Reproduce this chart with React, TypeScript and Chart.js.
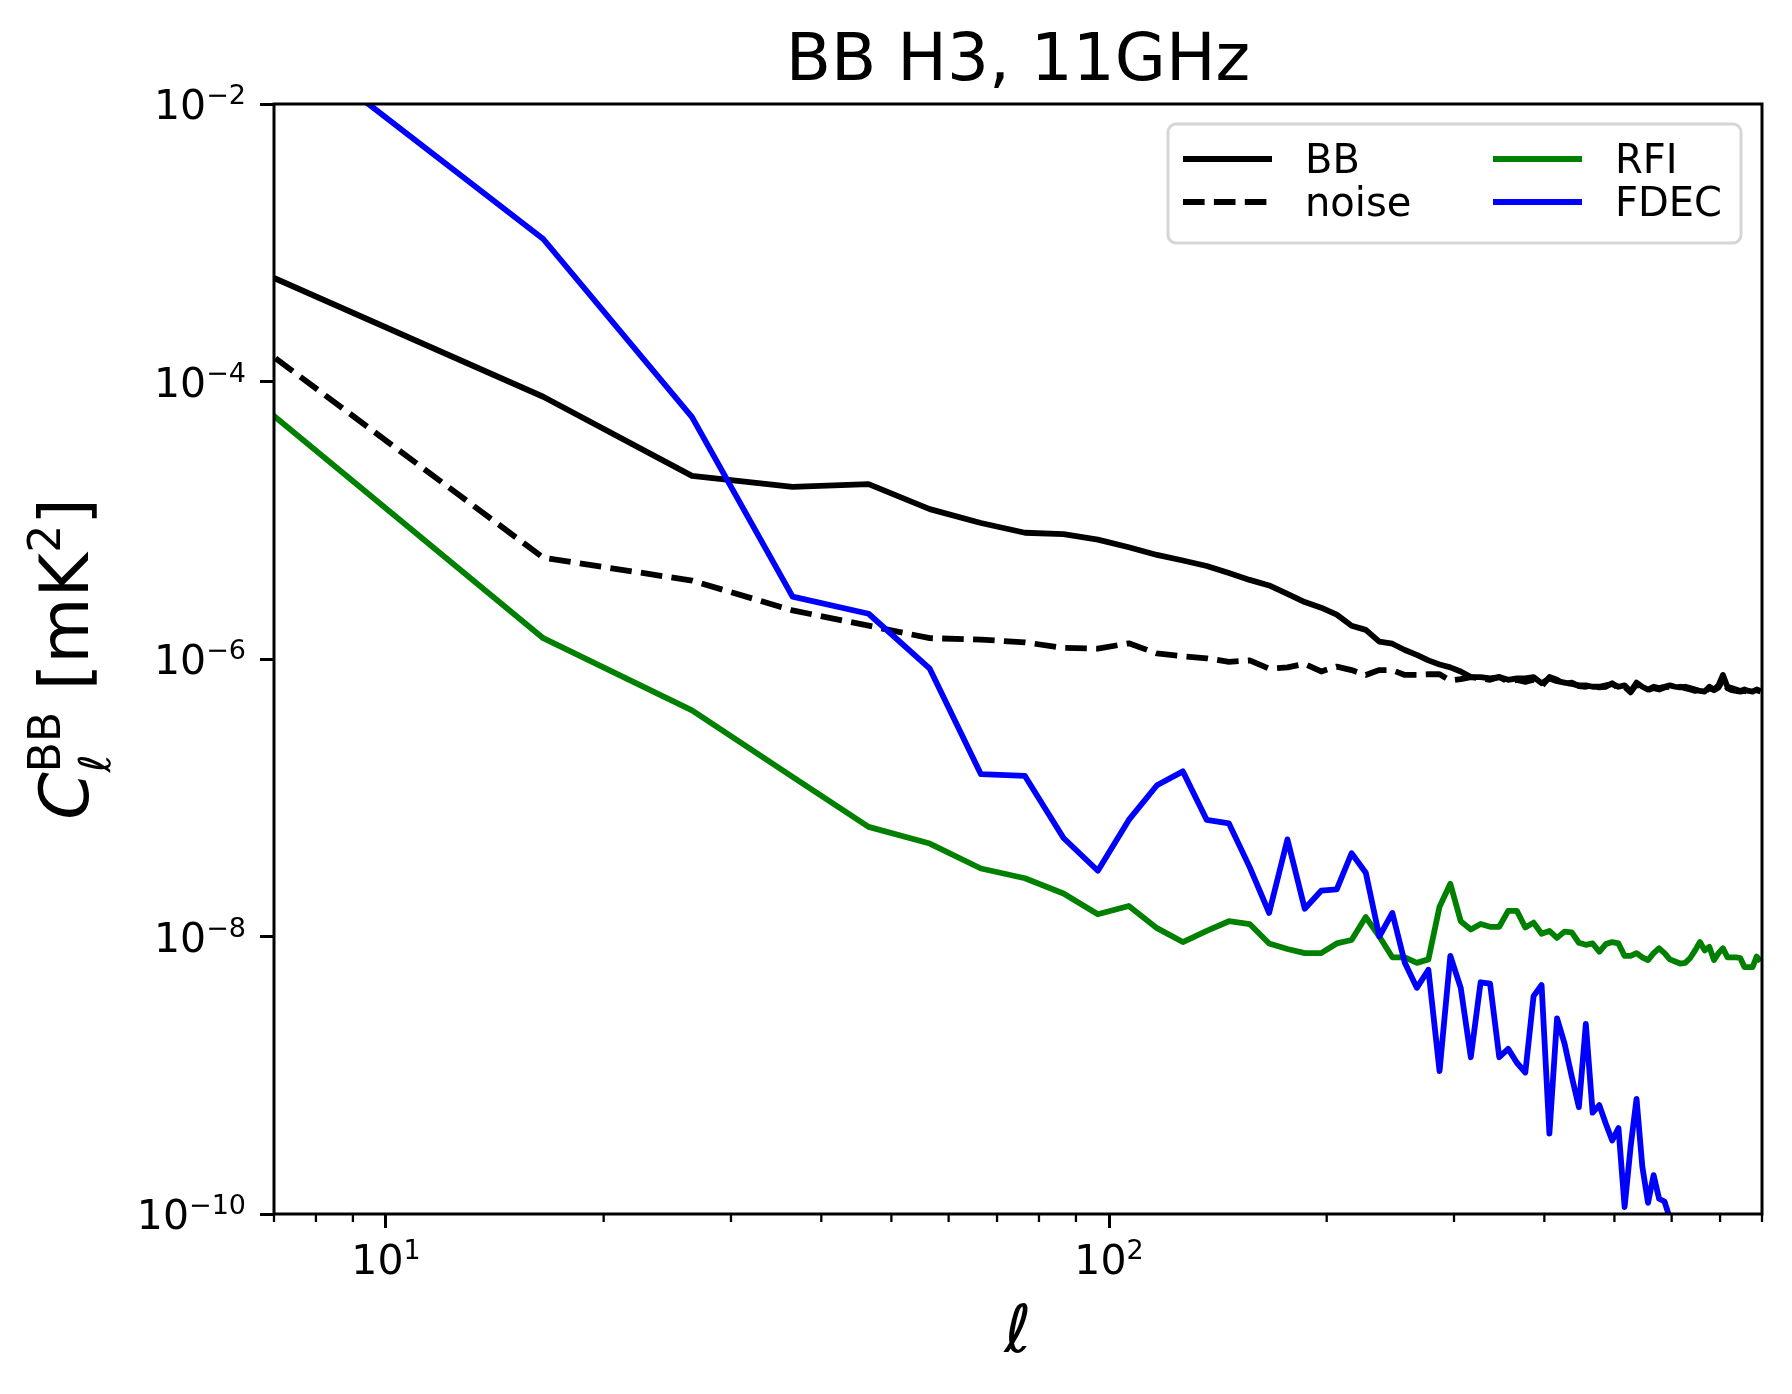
import React, { useEffect, useRef } from 'react';
import Chart from 'chart.js/auto';

// multipole bin centres
const ells = [
  6.5, 16.5, 26.5, 36.5, 46.5, 56.5, 66.5, 76.5, 86.5, 96.5,
  106.5, 116.5, 126.5, 136.5, 146.5, 156.5, 166.5, 176.5, 186.5, 196.5,
  206.5, 216.5, 226.5, 236.5, 246.5, 256.5, 266.5, 276.5, 286.5, 296.5,
  306.5, 316.5, 326.5, 336.5, 346.5, 356.5, 366.5, 376.5, 386.5, 396.5,
  406.5, 416.5, 426.5, 436.5, 446.5, 456.5, 466.5, 476.5, 486.5, 496.5,
  506.5, 516.5, 526.5, 536.5, 546.5, 556.5, 566.5, 576.5, 586.5, 596.5,
  606.5, 616.5, 626.5, 636.5, 646.5, 656.5, 666.5, 676.5, 686.5, 696.5,
  706.5, 716.5, 726.5, 736.5, 746.5, 756.5, 766.5, 776.5, 786.5, 796.5,
];

// log10 of C_l
const bbLog = [
  -3.18, -4.11, -4.68, -4.76, -4.74, -4.92, -5.02, -5.09, -5.10, -5.14,
  -5.195, -5.25, -5.29, -5.33, -5.38, -5.43, -5.47, -5.53, -5.59, -5.63,
  -5.68, -5.76, -5.79, -5.875, -5.89, -5.935, -5.97, -6.01, -6.04, -6.06,
  -6.09, -6.13, -6.13, -6.14, -6.13, -6.15, -6.14, -6.14, -6.13, -6.175,
  -6.14, -6.16, -6.17, -6.18, -6.19, -6.19, -6.20, -6.20, -6.19, -6.18,
  -6.20, -6.19, -6.235, -6.17, -6.20, -6.22, -6.20, -6.21, -6.20, -6.19,
  -6.20, -6.205, -6.20, -6.21, -6.22, -6.23, -6.235, -6.20, -6.22, -6.19,
  -6.115, -6.20, -6.21, -6.22, -6.23, -6.22, -6.23, -6.235, -6.22, -6.23,
];

const noiseLog = [
  -3.70, -5.27, -5.435, -5.65, -5.76, -5.85, -5.86, -5.88, -5.92, -5.925,
  -5.887, -5.96, -5.98, -5.995, -6.02, -6.01, -6.07, -6.06, -6.035, -6.09,
  -6.055, -6.08, -6.115, -6.08, -6.08, -6.115, -6.115, -6.11, -6.11, -6.155,
  -6.145, -6.13, -6.14, -6.15, -6.13, -6.165, -6.15, -6.165, -6.15, -6.195,
  -6.13, -6.15, -6.18, -6.17, -6.195, -6.20, -6.19, -6.205, -6.20, -6.175,
  -6.21, -6.20, -6.24, -6.18, -6.21, -6.225, -6.21, -6.22, -6.205, -6.20,
  -6.21, -6.20, -6.21, -6.22, -6.23, -6.22, -6.24, -6.21, -6.225, -6.205,
  -6.15, -6.21, -6.225, -6.23, -6.235, -6.23, -6.237, -6.24, -6.225, -6.235,
];

const rfiLog = [
  -4.11, -5.85, -6.37, -6.85, -7.21, -7.33, -7.51, -7.58, -7.69, -7.84,
  -7.78, -7.94, -8.04, -7.96, -7.89, -7.91, -8.05, -8.09, -8.12, -8.12,
  -8.05, -8.025, -7.86, -8.00, -8.15, -8.15, -8.19, -8.165, -7.785, -7.62,
  -7.89, -7.95, -7.91, -7.93, -7.93, -7.815, -7.815, -7.935, -7.90, -7.98,
  -7.96, -8.01, -7.965, -7.97, -8.045, -8.06, -8.05, -8.11, -8.055, -8.04,
  -8.05, -8.14, -8.14, -8.12, -8.15, -8.17, -8.12, -8.085, -8.12, -8.165,
  -8.18, -8.195, -8.19, -8.155, -8.10, -8.04, -8.10, -8.075, -8.17, -8.12,
  -8.085, -8.15, -8.15, -8.15, -8.155, -8.22, -8.22, -8.22, -8.145, -8.18,
];

const fdecLog = [
  -1.345, -2.973, -4.257, -5.55, -5.674, -6.07, -6.83, -6.843, -7.29, -7.526,
  -7.16, -6.91, -6.81, -7.16, -7.185, -7.50, -7.83, -7.30, -7.80, -7.67,
  -7.66, -7.40, -7.54, -8.00, -7.83, -8.19, -8.37, -8.24, -8.97, -8.14,
  -8.37, -8.87, -8.33, -8.34, -8.87, -8.81, -8.91, -8.98, -8.43, -8.35,
  -9.42, -8.59, -8.77, -9.01, -9.23, -8.63, -9.27, -9.215, -9.35, -9.47,
  -9.38, -9.95, -9.515, -9.17, -9.66, -9.92, -9.72, -9.89, -9.91, -10.03,
  null, null, null, null, null, null, null, null, null, null,
  null, null, null, null, null, null, null, null, null, null,
];

const xMajorTicks = [10, 100];
const xTickExps = ['1', '2'];
const xMinorTicks = [7, 8, 9, 20, 30, 40, 50, 60, 70, 80, 90, 200, 300, 400, 500, 600, 700, 800];
const yTicks = [1e-2, 1e-4, 1e-6, 1e-8, 1e-10];
const yTickExps = ['\u22122', '\u22124', '\u22126', '\u22128', '\u221210'];

const titleText = 'BB H3, 11GHz';
const xLabel = '\u2113';

const FAMILY = '"DejaVu Sans"';
const fnt = (size: number, italic = false) => `${italic ? 'italic ' : ''}${size}px ${FAMILY}`;

const toPoints = (vals: (number | null)[]) =>
  ells.map((l, i) => ({ x: l, y: vals[i] === null ? null : Math.pow(10, vals[i] as number) }));

type Part = { t: string; s: number; it?: boolean; dy: number };

// C_l^BB [mK^2], groups drawn one after another, parts of a group share a start
const yLabelGroups: Part[][] = [
  [{ t: 'C', s: 68, it: true, dy: 0 }],
  [{ t: 'BB', s: 44, dy: -28 }, { t: '\u2113', s: 44, it: true, dy: 22 }],
  [{ t: ' [mK', s: 68, dy: 0 }],
  [{ t: '2', s: 44, dy: -28 }],
  [{ t: ']', s: 68, dy: 0 }],
];

function drawPow(ctx: CanvasRenderingContext2D, exp: string, x: number, baseline: number, align: 'center' | 'right') {
  ctx.font = fnt(41);
  const w1 = ctx.measureText('10').width;
  ctx.font = fnt(27);
  const w2 = ctx.measureText(exp).width;
  const start = align === 'center' ? x - (w1 + w2) / 2 : x - (w1 + w2);
  ctx.textAlign = 'left';
  ctx.textBaseline = 'alphabetic';
  ctx.font = fnt(41);
  ctx.fillText('10', start, baseline);
  ctx.font = fnt(27);
  ctx.fillText(exp, start + w1, baseline - 15);
}

function drawGroups(ctx: CanvasRenderingContext2D, groups: Part[][]) {
  const widths = groups.map((g) =>
    Math.max(...g.map((p) => {
      ctx.font = fnt(p.s, p.it);
      return ctx.measureText(p.t).width;
    }))
  );
  let x = -widths.reduce((a, b) => a + b, 0) / 2;
  ctx.textAlign = 'left';
  ctx.textBaseline = 'alphabetic';
  groups.forEach((g, i) => {
    g.forEach((p) => {
      ctx.font = fnt(p.s, p.it);
      ctx.fillText(p.t, x, p.dy);
    });
    x += widths[i];
  });
}

const decorPlugin = {
  id: 'decor',
  afterDraw(chart: Chart) {
    const { ctx, chartArea: a } = chart;
    const xs = chart.scales.x;
    const ys = chart.scales.y;
    const cx = (a.left + a.right) / 2;
    ctx.save();
    ctx.fillStyle = '#000';
    ctx.strokeStyle = '#000';

    // minor ticks
    ctx.lineWidth = 2.3;
    ctx.beginPath();
    xMinorTicks.forEach((v) => {
      const px = xs.getPixelForValue(v);
      ctx.moveTo(px, a.bottom);
      ctx.lineTo(px, a.bottom + 8);
    });
    ctx.stroke();

    // axes box
    ctx.lineWidth = 3;
    ctx.strokeRect(a.left, a.top, a.right - a.left, a.bottom - a.top);

    // tick labels
    xMajorTicks.forEach((v, i) => drawPow(ctx, xTickExps[i], xs.getPixelForValue(v), a.bottom + 60, 'center'));
    yTicks.forEach((v, i) => drawPow(ctx, yTickExps[i], a.left - 28, ys.getPixelForValue(v) + 15, 'right'));

    // title and axis labels
    ctx.textAlign = 'center';
    ctx.textBaseline = 'alphabetic';
    ctx.font = fnt(66);
    ctx.fillText(titleText, cx, a.top - 24);
    ctx.font = fnt(66, true);
    ctx.fillText(xLabel, cx, a.bottom + 138);

    ctx.save();
    ctx.translate(a.left - 186, (a.top + a.bottom) / 2);
    ctx.rotate(-Math.PI / 2);
    drawGroups(ctx, yLabelGroups);
    ctx.restore();

    // legend, two columns filled top to bottom
    const bw = 573;
    const bh = 119;
    const bx = a.right - 21 - bw;
    const by = a.top + 20;
    ctx.beginPath();
    ctx.roundRect(bx, by, bw, bh, 8);
    ctx.fillStyle = 'rgba(255,255,255,0.8)';
    ctx.fill();
    ctx.strokeStyle = '#d6d6d6';
    ctx.lineWidth = 3;
    ctx.stroke();

    const ds = chart.data.datasets as any[];
    ds.forEach((d, i) => {
      const col = Math.floor(i / 2);
      const row = i % 2;
      const x0 = bx + 15 + col * 310;
      const y0 = by + 35 + row * 43;
      ctx.beginPath();
      ctx.setLineDash(d.borderDash || []);
      ctx.strokeStyle = d.borderColor;
      ctx.lineWidth = d.borderWidth;
      ctx.moveTo(x0, y0);
      ctx.lineTo(x0 + 89, y0);
      ctx.stroke();
      ctx.setLineDash([]);
      ctx.fillStyle = '#000';
      ctx.font = fnt(40);
      ctx.textAlign = 'left';
      ctx.fillText(d.label, x0 + 122, y0 + 14);
    });
    ctx.restore();
  },
};

const App: React.FC = () => {
  const canvasRef = useRef<HTMLCanvasElement>(null);
  const chartInstance = useRef<Chart | null>(null);

  useEffect(() => {
    document.body.style.margin = '0';
    if (!canvasRef.current) return;
    if (chartInstance.current) chartInstance.current.destroy();

    const line = { pointRadius: 0, borderWidth: 5.8, tension: 0, fill: false, clip: 0, borderJoinStyle: 'round' as const };

    chartInstance.current = new Chart(canvasRef.current, {
      type: 'line',
      data: {
        datasets: [
          { label: 'BB', data: toPoints(bbLog), borderColor: '#000000', order: 4, ...line },
          { label: 'noise', data: toPoints(noiseLog), borderColor: '#000000', borderDash: [21.6, 9.3], order: 3, ...line },
          { label: 'RFI', data: toPoints(rfiLog), borderColor: '#008000', order: 2, ...line },
          { label: 'FDEC', data: toPoints(fdecLog), borderColor: '#0000ff', order: 1, ...line },
        ],
      },
      options: {
        animation: false,
        responsive: false,
        devicePixelRatio: 1,
        events: [],
        layout: { padding: { top: 104, right: 30, left: 0, bottom: 0 } },
        plugins: {
          legend: { display: false },
          title: { display: false },
          tooltip: { enabled: false },
        },
        scales: {
          x: {
            type: 'logarithmic',
            min: 7,
            max: 800,
            border: { display: false },
            grid: { drawOnChartArea: false, drawTicks: true, tickLength: 14, tickWidth: 3, tickColor: '#000' },
            ticks: { display: false },
            afterBuildTicks: (s: any) => {
              s.ticks = xMajorTicks.map((v) => ({ value: v, major: true }));
            },
            afterFit: (s: any) => {
              s.height = 180;
            },
          },
          y: {
            type: 'logarithmic',
            min: 1e-10,
            max: 1e-2,
            border: { display: false },
            grid: { drawOnChartArea: false, drawTicks: true, tickLength: 14, tickWidth: 3, tickColor: '#000' },
            ticks: { display: false },
            afterBuildTicks: (s: any) => {
              s.ticks = yTicks.map((v) => ({ value: v, major: true }));
            },
            afterFit: (s: any) => {
              s.width = 274;
            },
          },
        },
      },
      plugins: [decorPlugin],
    });

    return () => {
      if (chartInstance.current) {
        chartInstance.current.destroy();
        chartInstance.current = null;
      }
    };
  }, []);

  return (
    <div style={{ width: 1792, height: 1394, background: '#fff' }}>
      <canvas ref={canvasRef} width={1792} height={1394} style={{ display: 'block' }} />
    </div>
  );
};

export default App;
